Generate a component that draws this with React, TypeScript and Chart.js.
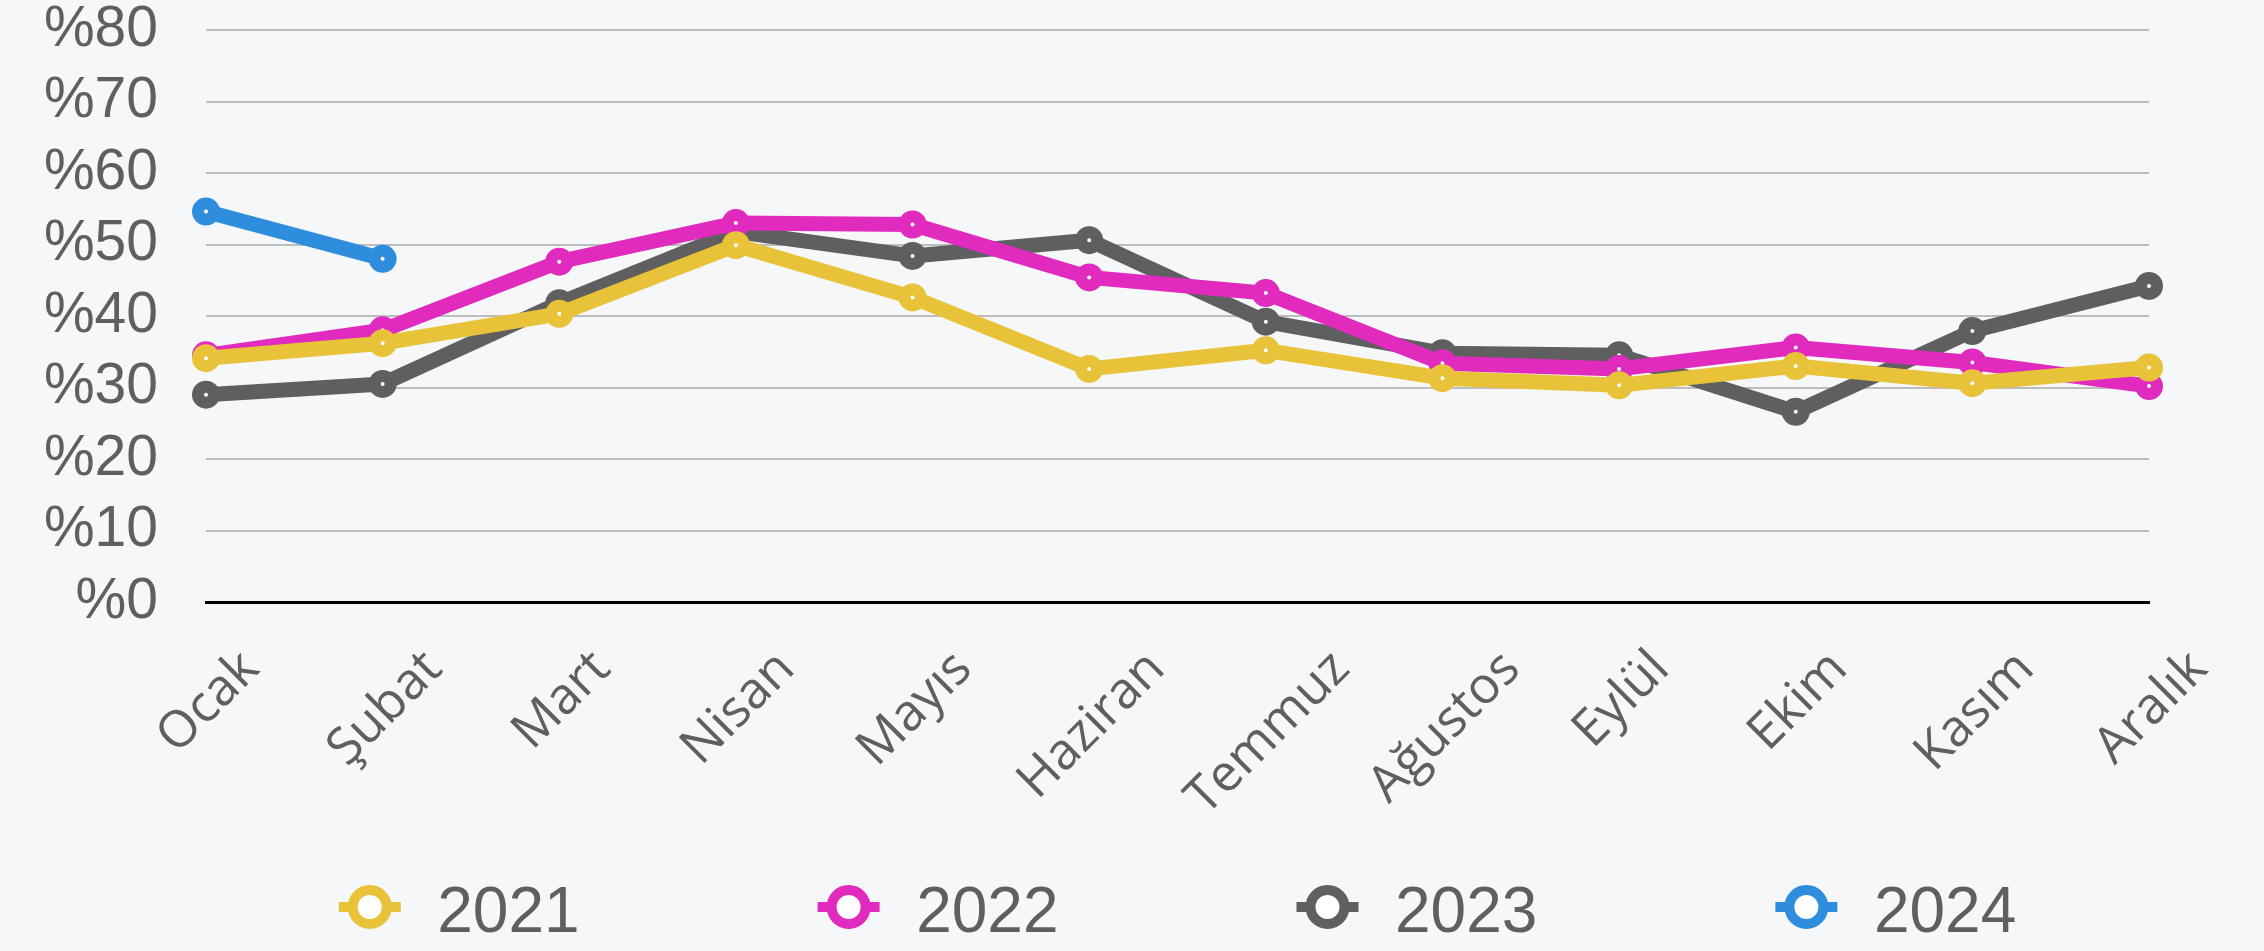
import React, { useEffect, useRef } from 'react';
import { Chart, registerables } from 'chart.js';

Chart.register(...registerables);

const months = ['Ocak', 'Şubat', 'Mart', 'Nisan', 'Mayıs', 'Haziran', 'Temmuz', 'Ağustos', 'Eylül', 'Ekim', 'Kasım', 'Aralık'];
const seriesLabels = ['2021', '2022', '2023', '2024'];
const values2021 = [34.1, 36.2, 40.3, 49.9, 42.6, 32.6, 35.2, 31.3, 30.3, 33.0, 30.6, 32.8];
const values2022 = [34.5, 38.0, 47.6, 53.0, 52.8, 45.4, 43.2, 33.4, 32.6, 35.6, 33.5, 30.2];
const values2023 = [29.0, 30.5, 41.8, 51.8, 48.4, 50.6, 39.2, 34.8, 34.5, 26.6, 37.9, 44.2];
const values2024 = [54.6, 48.0, null, null, null, null, null, null, null, null, null, null];
const yTickValues = [0, 10, 20, 30, 40, 50, 60, 70, 80];
const seriesColors = ['#E8C33A', '#E02BBE', '#5F5F5F', '#2F8DDE'];

const W = 2264;
const H = 951;
const TEXT = '#5F5F5F';
const BG = '#F6F7F8';

const xLabelPlugin = {
  id: 'centeredRotatedLabels',
  afterDraw(chart: any) {
    const { ctx } = chart;
    const xs = chart.scales.x;
    const size = 51;
    ctx.save();
    ctx.font = `${size}px "Open Sans"`;
    ctx.fillStyle = TEXT;
    ctx.textAlign = 'center';
    ctx.textBaseline = 'alphabetic';
    const top = chart.chartArea.bottom + 43;
    months.forEach((m, i) => {
      const x = xs.getPixelForValue(i);
      const w = ctx.measureText(m).width;
      const bh = (w + size * 0.72) * Math.SQRT1_2;
      ctx.save();
      ctx.translate(x, top + bh / 2);
      ctx.rotate(-Math.PI / 4);
      ctx.fillText(m, 0, size * 0.36);
      ctx.restore();
    });
    ctx.restore();
  },
};

const legendPlugin = {
  id: 'lineMarkerLegend',
  afterDraw(chart: any) {
    const { ctx } = chart;
    const size = 64;
    ctx.save();
    ctx.font = `${size}px "Liberation Sans", Arial, sans-serif`;
    const stubHalf = 31;
    const textGap = 67.5;
    const itemGap = 238;
    const items = chart.data.datasets.map((ds: any) => ({
      label: ds.label,
      color: ds.borderColor,
      w: ctx.measureText(ds.label).width,
    }));
    const total =
      items.reduce((s: number, it: any) => s + stubHalf + textGap + it.w, 0) + itemGap * (items.length - 1);
    const { left, right } = chart.chartArea;
    let x = (left + right) / 2 - total / 2;
    const y = 907;
    items.forEach((it: any) => {
      const cx = x + stubHalf;
      ctx.strokeStyle = it.color;
      ctx.lineWidth = 10;
      ctx.lineCap = 'butt';
      ctx.beginPath();
      ctx.moveTo(cx - stubHalf, y);
      ctx.lineTo(cx + stubHalf, y);
      ctx.stroke();
      ctx.beginPath();
      ctx.arc(cx, y, 17, 0, Math.PI * 2);
      ctx.fillStyle = '#FFFFFF';
      ctx.fill();
      ctx.stroke();
      ctx.fillStyle = TEXT;
      ctx.textAlign = 'left';
      ctx.textBaseline = 'alphabetic';
      ctx.fillText(it.label, cx + textGap, 931.5);
      x = cx + textGap + it.w + itemGap;
    });
    ctx.restore();
  },
};

function makeDataset(label: string, data: (number | null)[], color: string) {
  return {
    label,
    data,
    borderColor: color,
    backgroundColor: color,
    borderWidth: 15,
    borderJoinStyle: 'round' as const,
    borderCapStyle: 'round' as const,
    pointRadius: 8,
    pointHoverRadius: 8,
    pointBorderWidth: 12,
    pointHoverBorderWidth: 12,
    pointBackgroundColor: '#FFFFFF',
    pointBorderColor: color,
    tension: 0,
    spanGaps: false,
    clip: false as const,
  };
}

export default function App() {
  const canvasRef = useRef<HTMLCanvasElement | null>(null);

  useEffect(() => {
    const canvas = canvasRef.current;
    if (!canvas) return;
    const chart = new Chart(canvas, {
      type: 'line',
      data: {
        labels: months,
        datasets: [
          makeDataset(seriesLabels[0], values2021, seriesColors[0]),
          makeDataset(seriesLabels[1], values2022, seriesColors[1]),
          makeDataset(seriesLabels[2], values2023, seriesColors[2]),
          makeDataset(seriesLabels[3], values2024, seriesColors[3]),
        ],
      },
      options: {
        animation: false,
        responsive: false,
        devicePixelRatio: 1,
        layout: { padding: { left: 46, right: 115, top: 30, bottom: 349 } },
        plugins: {
          legend: { display: false },
          title: { display: false },
          tooltip: { enabled: false },
        },
        scales: {
          x: {
            grid: { display: false },
            border: { display: true, color: '#000000', width: 3 },
            ticks: { display: false },
            afterFit: (s: any) => {
              s.height = 0;
              s.paddingTop = 0;
              s.paddingBottom = 0;
              s.paddingLeft = 0;
              s.paddingRight = 0;
            },
          },
          y: {
            min: 0,
            max: 80,
            afterBuildTicks: (s: any) => {
              s.ticks = yTickValues.map((v) => ({ value: v }));
            },
            ticks: {
              callback: (v: any) => '%' + v,
              color: TEXT,
              padding: 48,
              font: { family: '"Liberation Sans", Arial, sans-serif', size: 57, lineHeight: 1 },
            },
            grid: {
              color: (c: any) => (c.tick && c.tick.value === 0 ? 'rgba(0,0,0,0)' : '#BDBDBD'),
              lineWidth: 2,
              drawTicks: false,
            },
            border: { display: false },
            afterFit: (s: any) => {
              s.width = 160;
              s.paddingTop = 0;
              s.paddingBottom = 0;
              s.paddingLeft = 0;
              s.paddingRight = 0;
            },
          },
        },
      },
      plugins: [xLabelPlugin, legendPlugin],
    });
    return () => chart.destroy();
  }, []);

  return (
    <div style={{ position: 'fixed', left: 0, top: 0, width: W, height: H, background: BG, overflow: 'hidden' }}>
      <canvas ref={canvasRef} width={W} height={H} style={{ display: 'block', width: W, height: H }} />
    </div>
  );
}
